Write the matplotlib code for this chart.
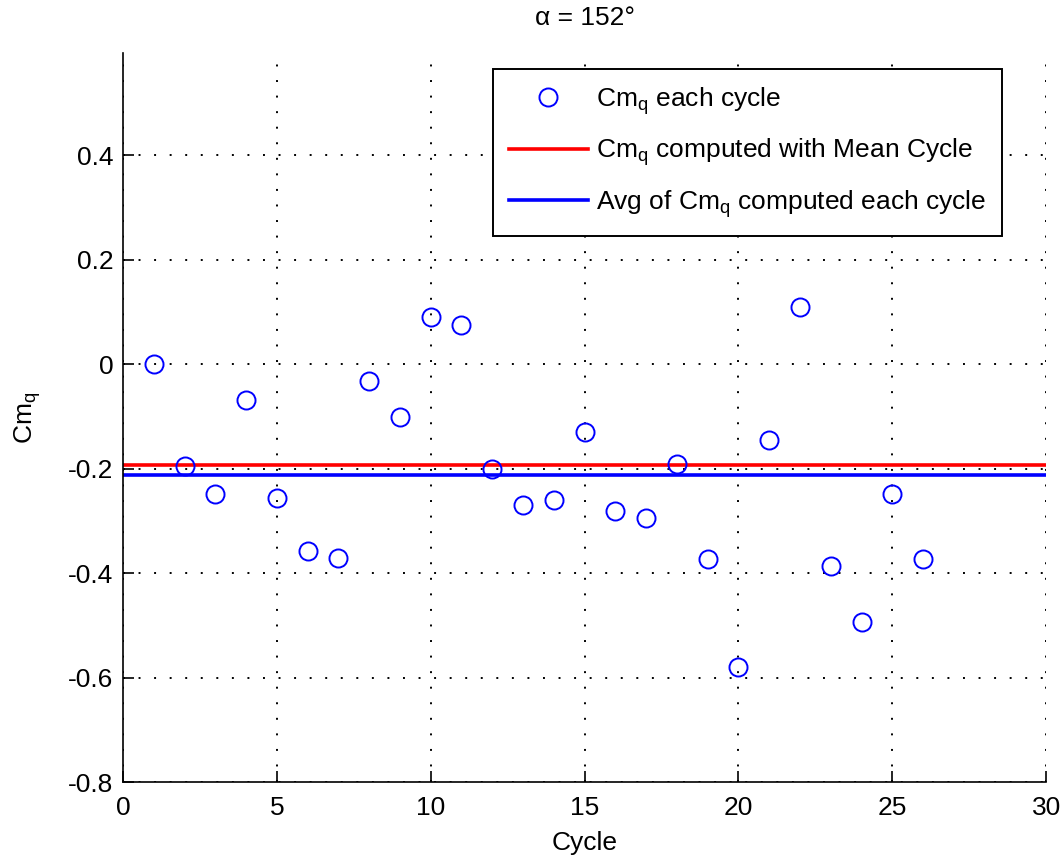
import matplotlib
matplotlib.use("Agg")
import matplotlib.pyplot as plt

plt.rcParams['font.family'] = ['Liberation Sans', 'DejaVu Sans']
plt.rcParams['mathtext.fontset'] = 'custom'
plt.rcParams['mathtext.rm'] = 'Liberation Sans'
plt.rcParams['mathtext.it'] = 'Liberation Sans'

cycles = list(range(1, 27))
cmq_each = [0.000, -0.196, -0.248, -0.069, -0.257, -0.358, -0.371, -0.033, -0.102,
            0.090, 0.074, -0.200, -0.269, -0.261, -0.130, -0.281, -0.294, -0.192,
            -0.374, -0.579, -0.146, 0.110, -0.387, -0.493, -0.248, -0.374]
cmq_mean_cycle = -0.194
cmq_avg = -0.213

xticks = [0, 5, 10, 15, 20, 25, 30]
yticks = [-0.8, -0.6, -0.4, -0.2, 0, 0.2, 0.4]
ytick_labels = ['-0.8', '-0.6', '-0.4', '-0.2', '0', '0.2', '0.4']

fig = plt.figure(figsize=(10.6, 8.57), dpi=100)
ax = fig.add_axes([0.116, 0.0875, 0.871, 0.8505])

ax.plot(cycles, cmq_each, 'o', linestyle='none', markerfacecolor='none',
        markeredgecolor='blue', markersize=13, markeredgewidth=1.4,
        label=r'Cm$_\mathrm{q}$ each cycle', zorder=3)
ax.axhline(cmq_mean_cycle, color='red', linewidth=2.6,
           label=r'Cm$_\mathrm{q}$ computed with Mean Cycle', zorder=2)
ax.axhline(cmq_avg, color='blue', linewidth=2.6,
           label=r'Avg of Cm$_\mathrm{q}$ computed each cycle', zorder=2)

ax.set_xlim(0, 30)
ax.set_ylim(-0.8, 0.595)
ax.set_xticks(xticks)
ax.set_xticklabels([str(t) for t in xticks])
ax.set_yticks(yticks)
ax.set_yticklabels(ytick_labels)

ax.grid(True, linestyle=(0, (1, 7)), color='black', linewidth=1.4)
ax.set_axisbelow(True)

for s in ['top', 'right']:
    ax.spines[s].set_visible(False)
for s in ['left', 'bottom']:
    ax.spines[s].set_linewidth(1.2)

ax.tick_params(direction='in', length=8, width=1.2, labelsize=19,
               top=False, right=False)
ax.tick_params(axis='x', pad=10)
ax.tick_params(axis='y', pad=7)

ax.set_xlabel('Cycle', fontsize=19, labelpad=8)
ax.set_ylabel(r'Cm$_\mathrm{q}$', fontsize=19, labelpad=18)
ax.set_title('α = 152°', fontsize=19, pad=20)

leg = ax.legend(loc='upper right', bbox_to_anchor=(0.952, 0.978), fontsize=19,
                frameon=True, fancybox=False, edgecolor='black', framealpha=1,
                handlelength=3.0, borderpad=0.6, labelspacing=0.75,
                handletextpad=0.3, borderaxespad=0)
leg.get_frame().set_linewidth(1.4)

fig.savefig('out.png', dpi=100)
